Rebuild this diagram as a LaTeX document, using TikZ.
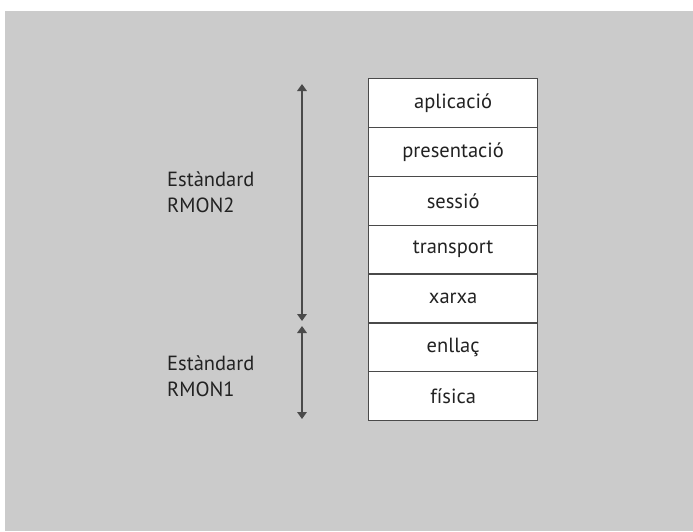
\documentclass[tikz,border=0pt]{standalone}
\usepackage{fontspec}
\setmainfont{PT Sans}
\usetikzlibrary{arrows.meta}
\definecolor{bggray}{HTML}{CBCBCB}
\definecolor{ink}{HTML}{222222}
\definecolor{rule}{HTML}{4A4A4A}
\begin{document}
\begin{tikzpicture}[x=1pt,y=-1pt,
  layer/.style={draw=rule, line width=1.3pt, fill=white, minimum width=169pt,
    minimum height=48.86pt, inner sep=0pt, anchor=north west, text=ink,
    font=\fontsize{20.5}{24}\selectfont},
  stdlabel/.style={align=left, anchor=north west, inner sep=0pt, text=ink,
    font=\fontsize{20.5}{25.5}\selectfont},
  span/.style={draw=rule, line width=1.7pt,
    {Triangle[width=9.5pt,length=7pt]}-{Triangle[width=9.5pt,length=7pt]}}]
  \useasboundingbox (0,0) rectangle (693,531);
  \fill[white] (0,0) rectangle (693,531);
  \fill[bggray] (5,11) rectangle (693,531);

  % OSI layer stack
  \foreach \n/\t [count=\i from 0] in {app/aplicació, pres/presentació,
      ses/sessió, trans/transport, net/xarxa, link/enllaç, phys/física}
    \node[layer] (\n) at (368,{78+\i*48.86}) {\t};

  % scope of each RMON standard
  \coordinate (r2top) at (302,84);
  \coordinate (r2bot) at (302,321);
  \coordinate (r1top) at (302,326);
  \coordinate (r1bot) at (302,419);
  \draw[span] (r2top) -- (r2bot);
  \draw[span] (r1top) -- (r1bot);

  \node[stdlabel] (rmon2) at (167,172) {Estàndard\\RMON2};
  \node[stdlabel] (rmon1) at (167,356) {Estàndard\\RMON1};
\end{tikzpicture}
\end{document}
